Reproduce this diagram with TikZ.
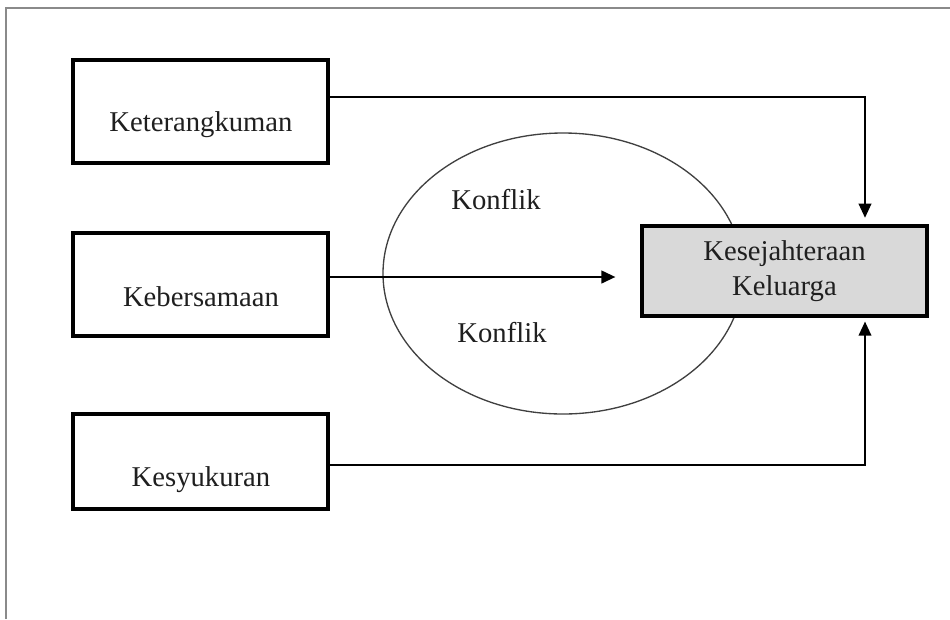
\documentclass[tikz,border=0pt]{standalone}
\usepackage{fontspec}
\setmainfont{Liberation Serif}
\usetikzlibrary{arrows.meta,shapes.geometric}
\definecolor{boxgray}{HTML}{D9D9D9}
\definecolor{framegray}{HTML}{8A8A8A}
\definecolor{ellgray}{HTML}{404040}
\begin{document}
\begin{tikzpicture}[x=0.75pt,y=-0.75pt,
  frameline/.style={draw=framegray,line width=1.5pt},
  varbox/.style={draw=black,line width=2.4pt,minimum width=191.25pt,inner sep=0pt},
  mainbox/.style={draw=black,line width=2.4pt,fill=boxgray,minimum width=213.75pt,minimum height=67.5pt,align=center,font=\fontsize{21.5}{26}\selectfont,text=black!88,inner sep=0pt},
  lbl/.style={font=\fontsize{21.5}{26}\selectfont,text=black!88,inner sep=0pt},
  conn/.style={draw=black,line width=1.1pt},
  arr/.style={conn,-{Triangle[length=10.5pt,width=9.5pt]}},
  ell/.style={ellipse,draw=ellgray,line width=1.0pt,minimum width=270pt,minimum height=210.75pt,inner sep=0pt}
]
\useasboundingbox (0,0) rectangle (950,619);
\draw[frameline] (6,619) -- (6,8) -- (950,8);

\node[ell] (ell) at (563,273.5) {};

\node[varbox,minimum height=77.25pt] (k1) at (200.5,111.5) {};
\node[varbox,minimum height=77.25pt] (k2) at (200.5,284.5) {};
\node[varbox,minimum height=71.25pt] (k3) at (200.5,461.5) {};
\node[lbl] (t1) at (201,125) {Keterangkuman};
\node[lbl] (t2) at (201,297) {Kebersamaan};
\node[lbl] (t3) at (201,480) {Kesyukuran};

\node[mainbox] (kk) at (784.5,271) {Kesejahteraan\\Keluarga};

\node[lbl] (c1) at (496,200) {Konflik};
\node[lbl] (c2) at (502,333) {Konflik};

\coordinate (vx) at (865,0);
\coordinate (y1) at (0,97);
\coordinate (y2) at (0,277);
\coordinate (y3) at (0,465);

\draw[arr,shorten >=5pt] (k1.east |- y1) -| (kk.north -| vx);
\draw[arr,shorten >=3pt] (k3.east |- y3) -| (kk.south -| vx);
\draw[arr,line width=1.6pt,shorten >=18.75pt] (k2.east |- y2) -- (kk.west |- y2);
\end{tikzpicture}
\end{document}
